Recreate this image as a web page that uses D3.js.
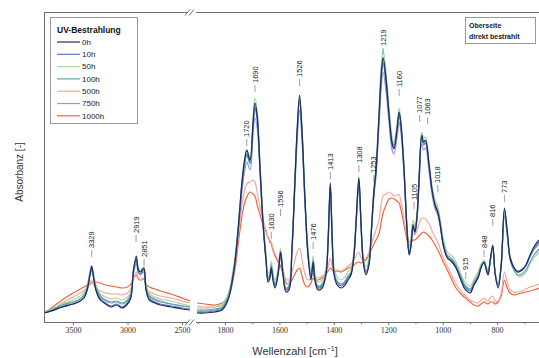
<!DOCTYPE html>
<html><head><meta charset="utf-8">
<script src="https://cdn.jsdelivr.net/npm/d3@7"></script>
<style>body{margin:0;background:#fff} svg{display:block}</style>
</head><body><svg id="c" width="539" height="358"></svg>
<script>
// ---- DATA (absorbance in mAU = absorbance x 1000) ----
const seriesNames = ["0h","10h","50h","100h","500h","750h","1000h"];

// Left panel wavenumbers (cm-1)
const wnLeft = [3766,3700,3600,3500,3450,3400,3370,3345,3329,3310,3290,3250,3200,3150,3100,3050,3000,2970,2945,2919,2900,2880,2851,2830,2800,2750,2700,2600,2500,2427];
const left0h    = [9,11,15,18,20,24,32,47,56,44,32,22,18,15,17,14,18,24,52,66,52,50,54,32,22,19,17,15,13,12];
const left10h   = [9,11,15,18,20,24,32,46,54,43,32,23,19,16,18,15,19,25,50,63,50,48,52,32,23,20,18,16,14,13];
const left50h   = [10,13,18,22,25,29,37,50,56,47,37,28,25,23,24,22,25,30,54,64,54,52,55,37,28,25,23,21,18,16];
const left100h  = [10,12,17,20,22,27,35,48,54,45,35,26,22,20,21,19,22,28,52,62,52,50,53,35,26,23,21,18,16,15];
const left500h  = [9,12,19,25,28,31,34,38,42,37,34,31,29,28,28,27,29,33,44,50,44,42,44,35,30,28,26,24,21,19];
const left750h  = [9,12,16,20,22,26,34,46,52,44,34,25,21,19,20,18,21,27,49,58,49,47,50,34,25,22,20,18,16,15];
const left1000h = [9,14,22,29,32,35,37,38,39,40,40,39,37,36,35,34,35,38,44,47,43,42,43,38,35,33,31,28,24,21];

// Right panel wavenumbers (cm-1)
const wnRight = [1903,1874,1837,1811,1789,1767,1752,1737,1727,1720,
  1708,1697,1690,1682,1671,1660,1649,1642,1635,1630,
  1624,1616,1605,1596,1587,1576,1565,1554,1543,1535,
  1526,1517,1506,1495,1484,1476,1470,1458,1443,1429,
  1421,1413,1406,1399,1388,1373,1359,1348,1337,1326,
  1318,1308,1300,1292,1282,1271,1263,1253,1245,1233,
  1226,1219,1208,1197,1186,1179,1168,1160,1153,1142,
  1131,1123,1116,1109,1102,1094,1087,1077,1070,1063,
  1050,1039,1028,1018,1009,998,983,966,951,936,
  921,915,899,885,870,859,848,840,833,826,
  816,807,796,785,773,763,752,738,724,708,
  694,679,665,646];
const right0h = [9,9,10,12,22,52,92,142,164,172,
  162,200,219,207,152,97,60,40,44,54,
  42,34,47,70,47,30,32,72,142,192,
  227,192,122,67,42,60,42,32,34,47,
  82,139,82,47,37,34,37,42,47,67,
  102,144,97,60,47,57,87,130,152,212,
  247,264,242,207,179,174,192,210,197,152,
  92,67,77,97,90,107,142,187,180,182,
  157,132,117,110,97,77,64,60,54,44,
  34,32,29,37,44,54,60,52,47,60,
  77,47,34,57,114,92,64,54,50,52,
  57,67,75,82];
const right10h = [10,10,11,13,23,52,90,138,160,168,
  160,196,214,203,150,97,61,42,46,55,
  44,36,49,69,49,32,34,72,140,188,
  222,188,120,67,44,60,44,34,36,48,
  82,136,82,48,39,36,39,44,48,67,
  101,141,96,61,49,58,87,128,150,208,
  242,259,238,204,177,173,190,207,194,150,
  92,68,78,96,90,106,140,184,177,179,
  155,131,116,109,97,78,65,61,55,45,
  36,34,31,38,45,55,60,53,48,60,
  76,48,36,57,112,91,65,55,51,53,
  57,66,73,80];
const right50h = [14,14,15,18,28,58,96,144,165,172,
  164,204,224,212,158,104,68,49,52,61,
  50,42,54,74,54,38,40,78,146,194,
  226,194,126,74,50,66,50,40,42,54,
  88,140,88,54,45,42,45,50,54,72,
  106,146,102,67,55,63,92,134,158,218,
  256,272,250,214,186,180,198,214,200,157,
  98,75,84,102,96,112,146,190,184,185,
  160,136,122,115,103,84,70,66,60,50,
  41,39,36,43,50,58,62,56,52,62,
  76,50,40,58,108,88,62,52,46,46,
  50,58,64,70];
const right100h = [12,12,13,15,25,55,92,140,160,167,
  158,196,215,204,152,99,63,45,48,57,
  46,38,50,70,50,34,36,74,140,188,
  222,188,122,70,46,62,46,36,38,50,
  84,136,84,50,41,38,41,46,50,69,
  102,141,98,63,51,60,88,128,152,210,
  248,265,244,208,181,177,193,209,196,153,
  94,70,80,98,92,108,142,185,179,180,
  156,132,118,111,99,80,67,63,57,47,
  38,36,33,40,47,56,60,54,50,60,
  74,49,37,56,106,87,62,52,47,48,
  52,60,67,73];
const right500h = [16,15,15,17,23,50,85,118,133,138,
  140,142,140,130,115,102,92,84,82,80,
  74,68,63,62,52,43,42,50,62,70,
  74,62,48,42,44,48,45,44,46,50,
  56,64,56,52,52,51,53,56,58,62,
  66,70,64,63,64,70,77,86,92,104,
  118,126,128,130,128,126,127,127,120,103,
  86,80,84,88,87,92,98,104,104,103,
  98,91,85,80,73,64,56,46,38,32,
  27,26,22,20,19,22,24,22,21,24,
  26,21,21,29,50,40,32,30,30,31,
  33,35,36,38];
const right750h = [11,11,12,14,24,53,88,132,152,160,
  152,186,204,194,146,96,62,44,47,56,
  45,37,49,66,49,33,35,71,134,180,
  212,180,116,66,45,60,45,35,37,49,
  80,130,80,49,40,37,40,45,49,66,
  98,136,94,61,50,58,86,124,146,202,
  234,250,230,198,172,168,184,200,188,147,
  90,68,77,94,88,104,136,178,172,174,
  150,127,113,107,95,77,65,61,55,46,
  37,35,32,39,46,55,59,53,49,59,
  73,48,36,56,108,88,63,54,50,52,
  56,65,72,78];
const right1000h = [19,18,17,19,24,47,77,107,120,125,
  130,128,126,117,107,97,90,85,80,78,
  72,66,60,56,48,40,37,42,48,52,
  54,46,37,35,39,44,42,42,44,48,
  51,54,52,50,51,50,52,54,55,57,
  59,60,59,60,62,67,72,78,82,89,
  100,109,117,123,124,123,121,119,112,97,
  82,76,79,82,82,84,86,89,90,89,
  86,82,77,72,67,60,52,42,34,29,
  25,24,20,17,16,18,20,19,18,20,
  20,18,20,26,42,34,29,27,28,29,
  30,31,32,34];

// x tick values
const ticksLeft = [3500,3000,2500];
const ticksRight = [1800,1600,1400,1200,1000,800];
const minorRight = [1900,1700,1500,1300,1100,900,700];

// peak annotations: wavenumber, level (mAU) where label starts
const peakWn    = [3329,2919,2851,1720,1690,1630,1596,1526,1476,1413,1308,1253,1219,1160,1105,1077,1063,1018,915,848,816,773];
const peakLevel = [74,89,65,185,239,92,115,245,82,152,159,149,276,235,122,209,207,139,52,74,105,129];

// ---- STYLES ----
const colors = {"0h":"#1d2d5c","10h":"#5a78c4","50h":"#a9d69f","100h":"#5fa79a","500h":"#f3a99b","750h":"#9b95da","1000h":"#e8673f"};
const drawOrder = ["1000h","500h","750h","50h","100h","10h","0h"];

const leftData = {"0h":left0h,"10h":left10h,"50h":left50h,"100h":left100h,"500h":left500h,"750h":left750h,"1000h":left1000h};
const rightData = {"0h":right0h,"10h":right10h,"50h":right50h,"100h":right100h,"500h":right500h,"750h":right750h,"1000h":right1000h};

const svg = d3.select("#c");
const yTop = 12, yBot = 322;
const y = d3.scaleLinear().domain([0,310]).range([yBot,yTop]);
const xL = d3.scaleLinear().domain([3766,2427]).range([44,190]);
const xR = d3.scaleLinear().domain([1903,635]).range([197,542]);

const defs = svg.append("defs");
defs.append("clipPath").attr("id","clipL").append("rect").attr("x",44).attr("y",yTop).attr("width",146).attr("height",yBot-yTop);
defs.append("clipPath").attr("id","clipR").append("rect").attr("x",197).attr("y",yTop).attr("width",345).attr("height",yBot-yTop);

function drawPanel(x, wn, data, clip){
  const g = svg.append("g").attr("clip-path",`url(#${clip})`);
  const line = d3.line().x((d,i)=>x(wn[i])).y(d=>y(d)).curve(d3.curveCatmullRom.alpha(0.5));
  drawOrder.forEach(name=>{
    g.append("path").datum(data[name]).attr("d",line)
      .attr("fill","none").attr("stroke",colors[name]).attr("stroke-width",1.2)
      .attr("stroke-linejoin","round");
  });
}
drawPanel(xL, wnLeft, leftData, "clipL");
drawPanel(xR, wnRight, rightData, "clipR");

// frame
const axisCol = "#6e6e6e";
const fr = svg.append("g").attr("stroke",axisCol).attr("stroke-width",1).attr("fill","none");
fr.append("line").attr("x1",44.5).attr("x2",44.5).attr("y1",yTop).attr("y2",yBot+0.5);
fr.append("line").attr("x1",44).attr("x2",188).attr("y1",yTop+0.5).attr("y2",yTop+0.5);
fr.append("line").attr("x1",196).attr("x2",539).attr("y1",yTop+0.5).attr("y2",yTop+0.5);
fr.append("line").attr("x1",44).attr("x2",188).attr("y1",yBot+0.5).attr("y2",yBot+0.5);
fr.append("line").attr("x1",196).attr("x2",539).attr("y1",yBot+0.5).attr("y2",yBot+0.5);
// break marks
[yTop+0.5, yBot+0.5].forEach(yy=>{
  fr.append("path").attr("d",`M${185},${yy+3} L${190},${yy-3}`);
  fr.append("path").attr("d",`M${189},${yy+3} L${194},${yy-3}`);
});

// axes
function styleAxis(g){
  g.select(".domain").remove();
  g.selectAll(".tick line").attr("stroke",axisCol);
  g.selectAll(".tick text").attr("font-family","Liberation Serif, serif").attr("font-size","8px").attr("fill","#333");
}
svg.append("g").attr("transform",`translate(0,${yBot})`)
  .call(d3.axisBottom(xL).tickValues(ticksLeft).tickSize(3).tickPadding(2).tickFormat(d3.format("d")))
  .call(styleAxis);
svg.append("g").attr("transform",`translate(0,${yBot})`)
  .call(d3.axisBottom(xR).tickValues(ticksRight).tickSize(3).tickPadding(2).tickFormat(d3.format("d")))
  .call(styleAxis);
svg.append("g").attr("transform",`translate(0,${yBot})`)
  .call(d3.axisBottom(xR).tickValues(minorRight).tickSize(2).tickFormat(""))
  .call(styleAxis);

// axis titles
svg.append("text").attr("transform","translate(23,172) rotate(-90)").attr("text-anchor","middle")
  .attr("font-family","Liberation Sans, Arial, sans-serif").attr("font-size","10px").attr("fill","#333")
  .text("Absorbanz [-]");
const xt = svg.append("text").attr("x",295).attr("y",355).attr("text-anchor","middle")
  .attr("font-family","Liberation Sans, Arial, sans-serif").attr("font-size","11px").attr("fill","#333");
xt.append("tspan").text("Wellenzahl [cm");
xt.append("tspan").attr("dy",-4).attr("font-size","7px").text("−1");
xt.append("tspan").attr("dy",4).text("]");

// peak labels
const peaks = peakWn.map((w,i)=>({w, label:String(w), level:peakLevel[i], x:(w>2000?xL(w):xR(w))}));
for(let k=0;k<3;k++){
  for(let i=1;i<peaks.length;i++){
    const a=peaks[i-1], b=peaks[i];
    const dist=b.x-a.x;
    if(dist<8 && Math.abs(a.level-b.level)<40){
      const push=(8-dist)/2; a.x-=push; b.x+=push;
    }
  }
}
const pg = svg.append("g");
peaks.forEach(p=>{
  const yy = y(p.level);
  pg.append("text").attr("transform",`translate(${p.x},${yy}) rotate(-90)`)
    .attr("dy","0.35em").attr("text-anchor","start")
    .attr("font-family","Liberation Sans, Arial, sans-serif").attr("font-size","7.5px").attr("fill","#1a1a1a")
    .text(p.label);
  pg.append("line").attr("x1",p.x).attr("x2",p.x).attr("y1",yy+2).attr("y2",yy+9)
    .attr("stroke","#777").attr("stroke-width",0.7);
});

// legend
const lg = svg.append("g");
lg.append("rect").attr("x",50.5).attr("y",17.5).attr("width",87).attr("height",106)
  .attr("fill","#fff").attr("stroke","#999").attr("stroke-width",1);
lg.append("text").attr("x",57).attr("y",33).attr("font-family","Liberation Sans, Arial, sans-serif")
  .attr("font-size","8.5px").attr("font-weight","bold").attr("fill","#111").text("UV-Bestrahlung");
seriesNames.forEach((n,i)=>{
  const yy = 42 + i*12.3;
  lg.append("line").attr("x1",57).attr("x2",80).attr("y1",yy).attr("y2",yy)
    .attr("stroke",colors[n]).attr("stroke-width",1.2);
  lg.append("text").attr("x",82).attr("y",yy).attr("dy","0.35em")
    .attr("font-family","Liberation Sans, Arial, sans-serif").attr("font-size","8px").attr("fill","#222").text(n);
});

// info box
const ib = svg.append("g");
ib.append("rect").attr("x",465.5).attr("y",17.5).attr("width",70).attr("height",26)
  .attr("fill","#fff").attr("stroke","#999");
ib.append("text").attr("x",469).attr("y",28).attr("font-family","Liberation Sans, Arial, sans-serif")
  .attr("font-size","7px").attr("font-weight","bold").attr("fill","#222").text("Oberseite");
ib.append("text").attr("x",469).attr("y",39).attr("font-family","Liberation Sans, Arial, sans-serif")
  .attr("font-size","7px").attr("font-weight","bold").attr("fill","#222").text("direkt bestrahlt");
</script></body></html>
